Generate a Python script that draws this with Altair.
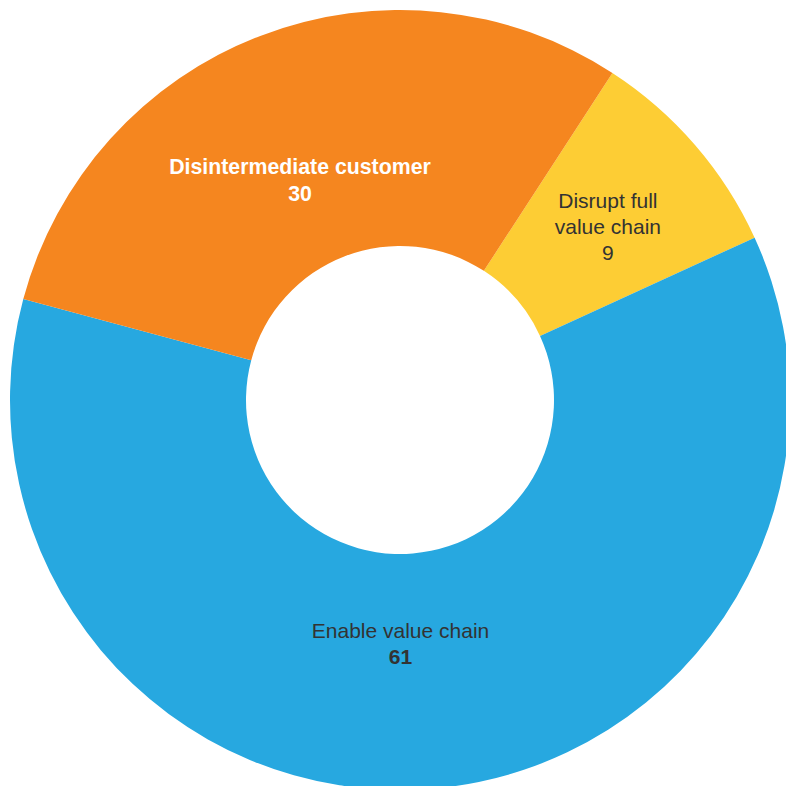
import altair as alt
import pandas as pd
import math

categories = ["Disrupt full value chain", "Enable value chain", "Disintermediate customer"]
name_lines = [["Disrupt full", "value chain"], ["Enable value chain"], ["Disintermediate customer"]]
values = [9, 61, 30]
colors = ["#FDCD34", "#27A8E0", "#F5861F"]

df = pd.DataFrame({"category": categories, "value": values})
df["end"] = df["value"].cumsum()
df["start"] = df["end"] - df["value"]
df["mid"] = (df["start"] + df["end"]) / 2
df["name"] = name_lines
df["label"] = df["value"].astype(str)

start = math.radians(33)
theta_scale = alt.Scale(domain=[0, 100], range=[start, start + 2 * math.pi])
CX, CY = 400, 400
FONT = "Liberation Sans"
FS = 21

arc = alt.Chart(df).mark_arc(outerRadius=390, innerRadius=154, stroke=None).encode(
    theta=alt.Theta("start:Q", scale=theta_scale),
    theta2="end:Q",
    color=alt.Color("category:N", scale=alt.Scale(domain=categories, range=colors), legend=None),
    x=alt.value(CX), y=alt.value(CY),
)

styles = {
    "Disintermediate customer": dict(r=240, dx=-14, ndy=-8, vdy=19, nw="bold", vw="bold", c="#FFFFFF", fs=21.3),
    "Disrupt full value chain": dict(r=268, dx=5, ndy=-23, vdy=29, nw="normal", vw="normal", c="#333333", fs=21),
    "Enable value chain": dict(r=245, dx=-20, ndy=-12, vdy=14, nw="normal", vw="bold", c="#333333", fs=21),
}

layers = [arc]
for cat, s in styles.items():
    base = alt.Chart(df).transform_filter(alt.datum.category == cat)
    enc = dict(theta=alt.Theta("mid:Q", scale=theta_scale), radius=alt.value(s["r"]),
               x=alt.value(CX), y=alt.value(CY))
    layers.append(base.mark_text(font=FONT, fontSize=s["fs"], fontWeight=s["nw"], color=s["c"],
                                 dx=s["dx"], dy=s["ndy"], lineHeight=26, baseline="middle", align="center")
                  .encode(text="name", **enc))
    layers.append(base.mark_text(font=FONT, fontSize=s["fs"], fontWeight=s["vw"], color=s["c"],
                                 dx=s["dx"], dy=s["vdy"], baseline="middle", align="center")
                  .encode(text="label:N", **enc))

chart = alt.layer(*layers).properties(
    width=786, height=786, padding=0, autosize=alt.AutoSizeParams(type="none")
).configure_view(stroke=None)

chart.save("out.html", embed_options={"renderer": "svg", "actions": False})
